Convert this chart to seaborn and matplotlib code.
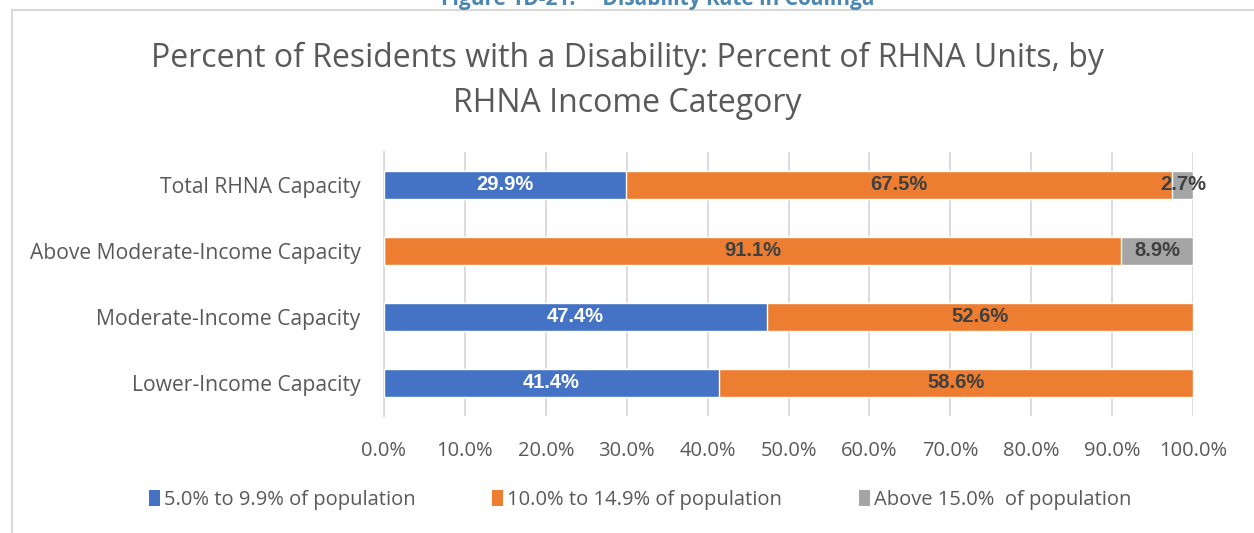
import matplotlib
matplotlib.use("Agg")
import matplotlib.pyplot as plt
import seaborn as sns
import pandas as pd
import numpy as np
from matplotlib.patches import Rectangle, Patch

categories = ["Total RHNA Capacity", "Above Moderate-Income Capacity",
              "Moderate-Income Capacity", "Lower-Income Capacity"]
series_names = ["5.0% to 9.9% of population", "10.0% to 14.9% of population",
                "Above 15.0%  of population"]
low = [29.9, 0.0, 47.4, 41.4]
mid = [67.5, 91.1, 52.6, 58.6]
high = [2.7, 8.9, 0.0, 0.0]
tick_vals = [0, 10, 20, 30, 40, 50, 60, 70, 80, 90, 100]
tick_labels = ["0.0%", "10.0%", "20.0%", "30.0%", "40.0%", "50.0%", "60.0%",
               "70.0%", "80.0%", "90.0%", "100.0%"]
colors = ["#4472C4", "#ED7D31", "#A5A5A5"]

sns.set_theme(style="white")
plt.rcParams["font.family"] = ["Open Sans", "DejaVu Sans"]

fig = plt.figure(figsize=(12.54, 5.33), dpi=100)
ax = fig.add_axes([384/1254, 1-416/533, (1193-384)/1254, (416-152)/533])

df = pd.DataFrame({"cat": categories, "low": low, "mid": mid, "high": high})
df["c1"] = df["low"]
df["c2"] = df["low"] + df["mid"]
df["c3"] = np.minimum(df["low"] + df["mid"] + df["high"], 100)

for col, c in zip(["c3", "c2", "c1"], colors[::-1]):
    sns.barplot(data=df, x=col, y="cat", color=c, orient="h", width=0.41,
                saturation=1, ax=ax, order=categories, zorder=3)

# labels
for i, row in df.iterrows():
    starts = [0, row["low"], row["low"] + row["mid"]]
    vals = [row["low"], row["mid"], row["high"]]
    for j, (s, v) in enumerate(zip(starts, vals)):
        if v <= 0:
            continue
        ax.text(s + v/2, i, f"{v:.1f}%", ha="center", va="center",
                fontsize=14.5, fontweight="bold", family=["Liberation Sans", "DejaVu Sans"],
                color="white" if j == 0 else "#404040", zorder=5)

ax.set_xlim(0, 100)
ax.set_ylim(3.5, -0.5)
ax.set_xticks(tick_vals)
ax.set_xticklabels(tick_labels, fontsize=14.5, color="#595959")
ax.tick_params(axis="y", labelsize=15.2, labelcolor="#595959", length=0, pad=17)
ax.tick_params(axis="x", length=0, pad=18)
ax.set_xlabel("")
ax.set_ylabel("")
ax.grid(axis="x", color="#D9D9D9", linewidth=1.3, zorder=0)
ax.set_axisbelow(True)
for s in ["top", "right", "bottom"]:
    ax.spines[s].set_visible(False)
ax.spines["left"].set_color("#D9D9D9")
ax.spines["left"].set_linewidth(1.3)

fig.text(0.5, 1-81/533, "Percent of Residents with a Disability: Percent of RHNA Units, by\nRHNA Income Category",
         ha="center", va="center", fontsize=23, color="#595959", linespacing=1.45)

fig.text(658/1254, 1.0, "Figure 1D-21:     Disability Rate in Coalinga", ha="center",
         va="center", fontsize=15, fontweight="bold", color="#4A86B0")

handles = [Patch(facecolor=c, edgecolor="none") for c in colors]
fig.legend(handles, series_names, loc="center", bbox_to_anchor=(640/1254, 1-500/533),
           ncol=3, frameon=False, fontsize=14.5, handlelength=0.55, handleheight=0.8,
           handletextpad=0.2, columnspacing=3.8, labelcolor="#595959")

fig.patches.append(Rectangle((12/1254, -0.1), 1.2, 1.1 - 10/533, transform=fig.transFigure,
                             fill=False, edgecolor="#D9D9D9", linewidth=1.5))

fig.savefig("out.png", dpi=100)
